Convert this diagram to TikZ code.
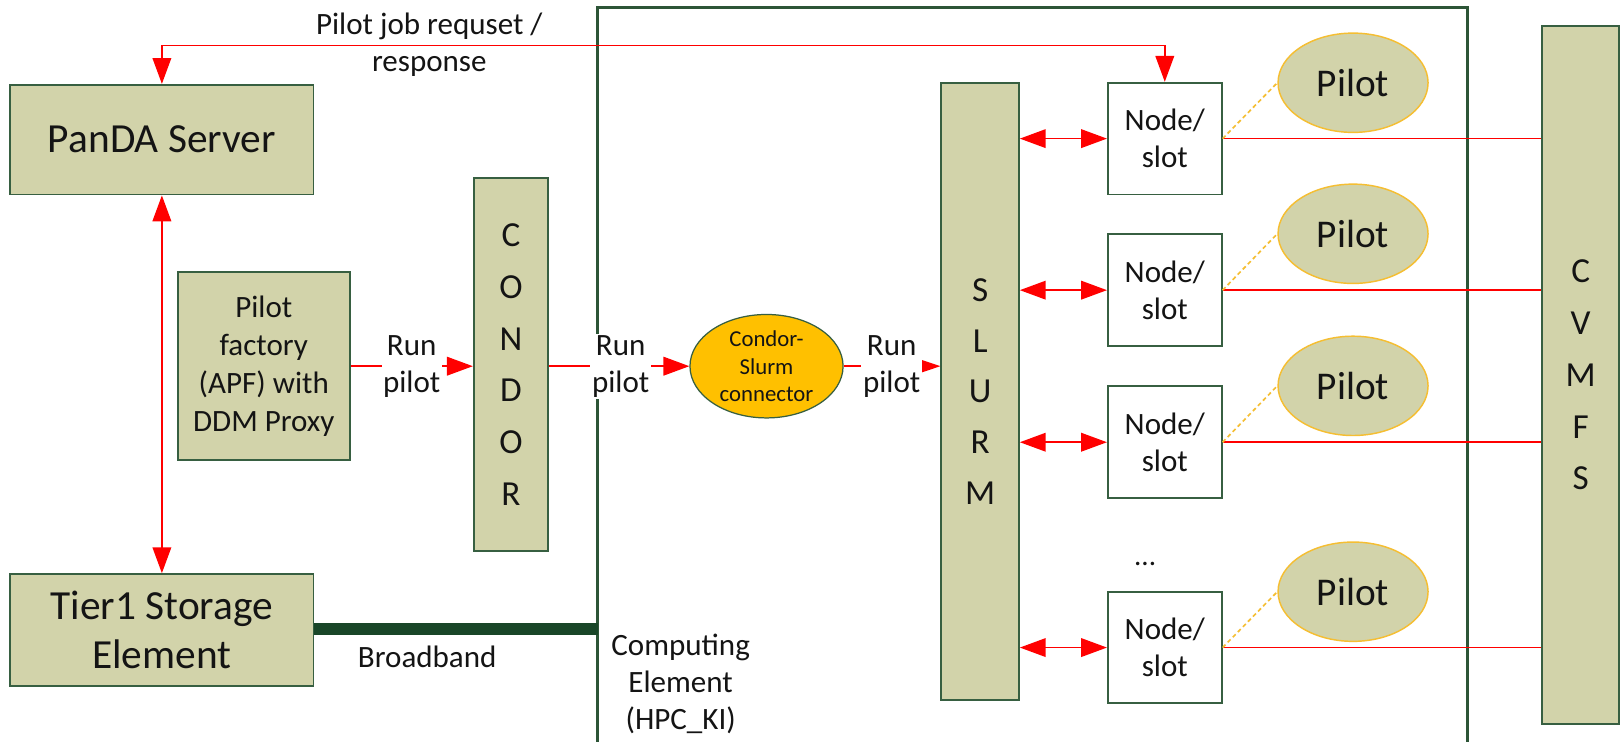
\documentclass[tikz,border=0pt]{standalone}
\usepackage{fontspec}
\setmainfont{Carlito}
\usetikzlibrary{arrows.meta,shapes.geometric}
\definecolor{khaki}{RGB}{210,211,170}
\definecolor{bordergreen}{RGB}{55,95,65}
\definecolor{framegreen}{RGB}{45,85,55}
\definecolor{bandgreen}{RGB}{25,70,40}
\definecolor{gold}{RGB}{245,190,50}
\definecolor{conorange}{RGB}{255,192,0}
\definecolor{txt}{RGB}{20,20,20}
\begin{document}
\begin{tikzpicture}[x=1pt,y=-1pt,
  kbox/.style={draw=bordergreen, line width=1.8pt, fill=khaki, inner sep=0pt, align=center, text=txt},
  wbox/.style={draw=bordergreen, line width=1.8pt, fill=white, inner sep=0pt, align=center, text=txt,
    minimum width=110pt, minimum height=108pt, font=\fontsize{30}{36}\selectfont},
  pilotell/.style={ellipse, draw=gold, line width=1.4pt, fill=khaki, inner sep=0pt, text=txt,
    minimum width=145pt, minimum height=96pt, font=\fontsize{38}{46}\selectfont},
  redl/.style={draw=red, line width=1.6pt},
  goldl/.style={draw=gold, line width=1.6pt, dash pattern=on 4pt off 3pt},
  lbl/.style={fill=white, inner sep=1.5pt, align=center, text=txt, font=\fontsize{30}{36}\selectfont},
  plain/.style={inner sep=0pt, align=center, text=txt, font=\fontsize{30}{36}\selectfont},
  >={Triangle[length=25pt,width=18pt]}
]
\useasboundingbox (0,0) rectangle (1568,717);
\clip (0,0) rectangle (1568,717);
\fill[white] (0,0) rectangle (1568,717);

% computing element frame
\draw[framegreen, line width=3pt] (578,745) -- (578,7) -- (1419,7) -- (1419,745);

% left side boxes
\node[kbox, minimum width=293pt, minimum height=106pt, font=\fontsize{40}{48}\selectfont] (panda) at (156.5,135) {PanDA Server};
\node[kbox, minimum width=293pt, minimum height=108pt, font=\fontsize{40}{47}\selectfont] (tier) at (156.5,609) {Tier1 Storage\\Element};
\node[kbox, minimum width=166pt, minimum height=182pt, font=\fontsize{30}{37}\selectfont] (apf) at (255,354) {Pilot\\factory\\(APF) with\\DDM Proxy};
\node[kbox, minimum width=72pt, minimum height=361pt, font=\fontsize{34}{50}\selectfont] (condor) at (494,352.5) {C\\O\\N\\D\\O\\R};

% connector
\node[ellipse, draw=bordergreen, line width=1.2pt, fill=conorange, inner sep=0pt, minimum width=148pt, minimum height=100pt,
  align=center, text=txt, font=\fontsize{22}{27}\selectfont] (conn) at (741,354) {Condor-\\Slurm\\connector};

% SLURM
\node[kbox, minimum width=75pt, minimum height=597pt, font=\fontsize{34}{49}\selectfont] (slurm) at (947.5,378.5) {S\\L\\U\\R\\M};

% nodes
\node[wbox] (n1) at (1126,134) {Node/\\slot};
\node[wbox] (n2) at (1126,280.5) {Node/\\slot};
\node[wbox] (n3) at (1126,427.5) {Node/\\slot};
\node[wbox] (n4) at (1126,626) {Node/\\slot};
\node[plain, font=\fontsize{28}{30}\selectfont] (dots) at (1107,545) {...};

% pilots
\node[pilotell] (p1) at (1308,80) {Pilot};
\node[pilotell] (p2) at (1308,226) {Pilot};
\node[pilotell] (p3) at (1308,373) {Pilot};
\node[pilotell] (p4) at (1308,572) {Pilot};

% CVMFS
\node[kbox, minimum width=74pt, minimum height=675pt, font=\fontsize{34}{50}\selectfont] (cvmfs) at (1528,362.5) {C\\V\\M\\F\\S};

% top request line
\coordinate (toprow) at (0,44);
\draw[redl,<->] (panda.north) -- (panda.north |- toprow) -| (n1.north);
\node[plain] (pjr) at (415,43.5) {Pilot job requset /\\response};

% panda <-> tier1
\draw[redl,<->] (panda.south) -- (tier.north);

% broadband
\draw[bandgreen, line width=12pt] (tier.east |- 0,608) -- (578,608);
\node[plain] (bb) at (413,635) {Broadband};
\node[plain] (ce) at (658,661) {Computing\\Element\\(HPC\_KI)};

% run pilot chain
\draw[redl,->] (apf.east) -- (condor.west |- apf.east);
\draw[redl,->] (condor.east |- conn.west) -- (conn.west);
\draw[redl,-{Triangle[length=20pt,width=13pt]}] (conn.east) -- (slurm.west |- conn.east);
\node[lbl] (rp1) at (398,354) {Run\\pilot};
\node[lbl] (rp2) at (600,354) {Run\\pilot};
\node[lbl] (rp3) at (862,354) {Run\\pilot};

% slurm <-> nodes, nodes -> cvmfs, dashed to pilots
\foreach \n/\p in {n1/p1,n2/p2,n3/p3,n4/p4}{
  \draw[redl,<->] (slurm.east |- \n.west) -- (\n.west);
  \draw[redl] (\n.east) -- (cvmfs.west |- \n.east);
  \draw[goldl] (\n.east) -- (\p.west);
}
\end{tikzpicture}
\end{document}
